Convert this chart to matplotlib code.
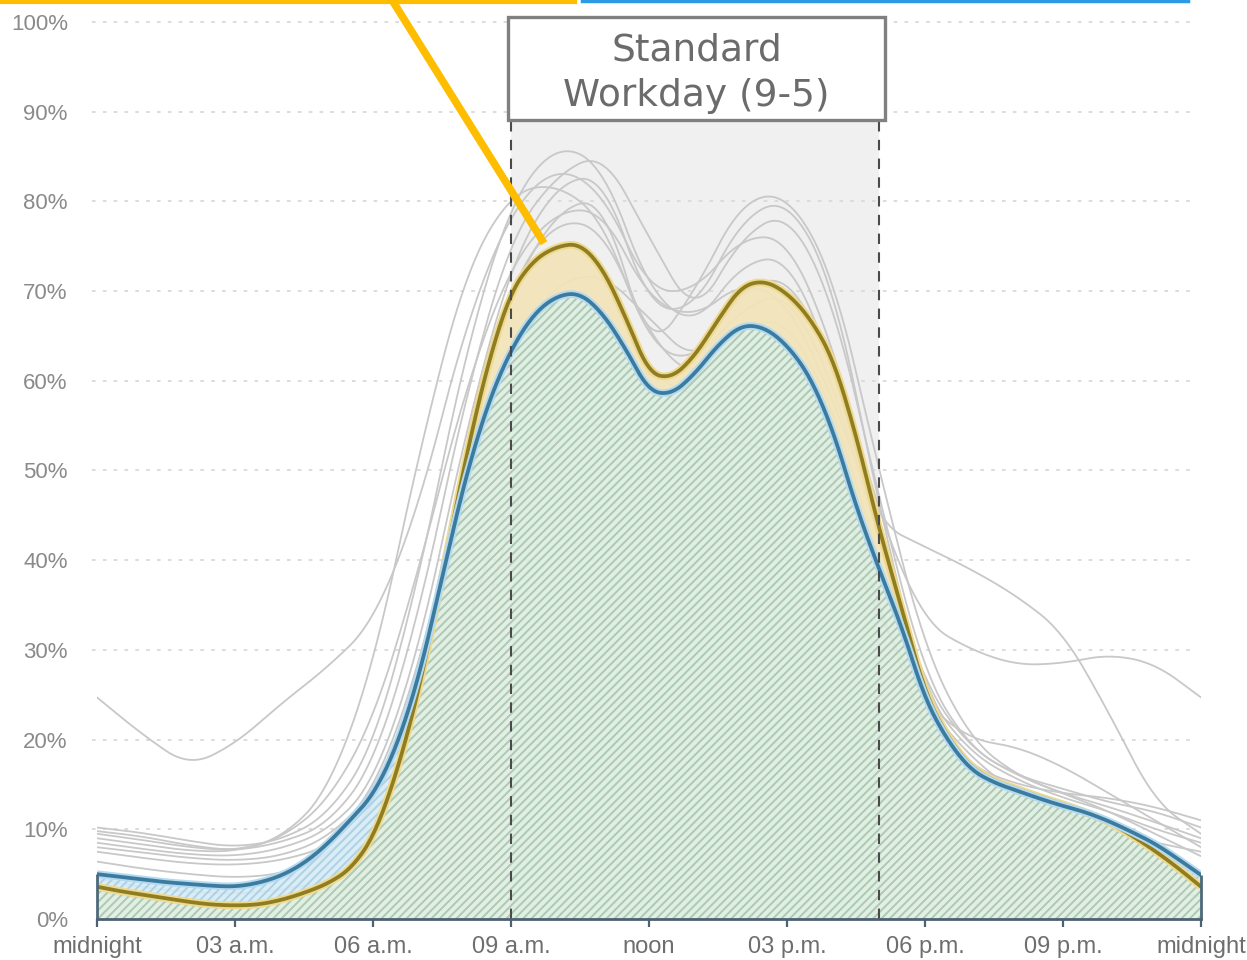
import numpy as np
import matplotlib
matplotlib.use('Agg')
from matplotlib import pyplot as plt
from matplotlib.patches import Rectangle
from matplotlib.lines import Line2D

plt.rcParams['font.family'] = ['Liberation Sans', 'DejaVu Sans']
plt.rcParams['hatch.linewidth'] = 1.4

# half-hour grid for the two highlighted series
hours_fine = np.arange(0, 24.5, 0.5)
blue_vals = [5.0, 4.7, 4.4, 4.1, 3.9, 3.7, 3.6, 4.0, 4.8, 6.2, 8.3, 11.0, 13.8, 19.0, 27.0, 38.0,
             49.0, 57.5, 63.5, 67.5, 69.5, 69.8, 67.5, 63.5, 58.8, 58.5, 60.8, 64.0, 66.2, 66.0,
             64.0, 60.5, 54.5, 46.0, 39.0, 32.5, 24.5, 19.8, 16.6, 15.2, 14.3, 13.4, 12.6, 11.9,
             10.9, 9.7, 8.4, 6.7, 4.9]
yellow_vals = [3.6, 3.1, 2.7, 2.3, 1.9, 1.6, 1.5, 1.6, 2.1, 2.9, 3.9, 5.5, 9.0, 16.0, 25.5, 38.0,
               51.0, 62.0, 70.0, 73.5, 75.0, 75.3, 72.5, 67.0, 60.8, 60.3, 62.8, 66.8, 70.5, 71.2,
               69.8, 67.0, 62.5, 54.0, 43.5, 34.5, 25.2, 20.2, 16.9, 15.4, 14.5, 13.6, 12.8, 11.9,
               10.8, 9.3, 7.6, 5.7, 3.6]

# hourly values of the individual (gray) series
hours = np.arange(0, 25, 1)
gray_series = [
    [24.7, 20.5, 17, 19.5, 24, 28, 33, 46, 66, 79, 84, 81, 70, 70, 76, 76, 64, 45, 33, 30, 28.3, 28.5, 29.5, 28.5, 24.7],
    [10.2, 9.6, 8.7, 8.0, 8.8, 11.5, 19, 38, 63, 80, 86.5, 84, 70, 66, 73, 74, 62, 42, 23, 17, 15, 14, 13.5, 12.5, 11],
    [9.8, 9.2, 8.2, 7.6, 8.5, 10.5, 17, 34, 58, 76, 83, 85.5, 76, 67, 76, 79, 69, 47, 27, 19, 16, 14.5, 13, 12, 10.2],
    [8.5, 7.8, 7.2, 7.0, 7.8, 9.8, 15, 30, 54, 73, 82, 83, 68, 68, 78, 80.5, 71, 46, 25, 18.5, 15.5, 13.5, 12, 10, 8.5],
    [8.0, 7.4, 6.8, 6.5, 7.0, 9.0, 14, 28, 50, 70, 79, 80.5, 63, 70, 80, 81, 72, 50, 30, 20, 16, 14, 12.5, 10.8, 9],
    [6.4, 5.6, 5.0, 4.6, 5.0, 7.0, 12, 25, 47, 64, 71, 72, 67, 62, 68, 70, 60, 42, 26, 19, 16, 14, 12, 9.5, 7],
    [4.5, 3.5, 3.0, 2.8, 3.2, 4.2, 6.5, 14, 32, 48, 54, 55.5, 53, 52, 53.5, 51, 44, 34, 24, 18, 14, 11, 8.5, 6, 4.5],
    [3.0, 2.2, 1.6, 1.5, 2.0, 3.0, 5, 10, 25, 45, 58, 62, 61, 58, 60, 58, 50, 35, 21, 13, 9, 6.5, 4.5, 3.2, 2.5],
    [9.0, 8.3, 7.6, 7.5, 9.0, 13, 22, 39, 59, 73, 79, 79, 69, 67, 71, 69, 58, 44, 41.5, 39, 36, 32, 23, 13, 9.5],
    [7.5, 6.8, 6.2, 6.0, 6.5, 8, 13, 27, 52, 71, 78, 77, 65, 60, 66, 67, 57, 40, 24, 20, 19.2, 17, 14, 11, 8],
    [9.5, 8.8, 8.0, 7.6, 9.0, 14, 28, 52, 72, 81, 82, 78, 64, 62, 70, 72, 62, 42, 24, 17, 14, 12, 10, 8.5, 7.5],
]

tick_hours = [0, 3, 6, 9, 12, 15, 18, 21, 24]
tick_labels = ['midnight', '03 a.m.', '06 a.m.', '09 a.m.', 'noon', '03 p.m.', '06 p.m.', '09 p.m.', 'midnight']
y_ticks = list(range(0, 101, 10))
box_text = 'Standard\nWorkday (9-5)'


def basis(x, y, n=12):
    # render helper: quadratic b-spline through the midpoints (like d3 curveBasis)
    p = np.column_stack([x, y]).astype(float)
    m = (p[:-1] + p[1:]) / 2
    t = np.linspace(0, 1, n, endpoint=False)[:, None]
    out = [p[:1], np.linspace(p[0], m[0], 4, endpoint=False)]
    for i in range(1, len(p) - 1):
        a, b, c = m[i - 1], p[i], m[i]
        out.append((1 - t) ** 2 * a + 2 * (1 - t) * t * b + t ** 2 * c)
    out.append(np.linspace(m[-1], p[-1], 4))
    pts = np.vstack(out)
    return pts[:, 0], pts[:, 1]


fig = plt.figure(figsize=(12.47, 9.6), dpi=100)
ax = fig.add_axes([97 / 1247, 41 / 960, (1201 - 97) / 1247, (938 - 41) / 960])
ax.set_xlim(0, 24)
ax.set_ylim(0, 100)

# workday shading
ax.add_patch(Rectangle((9, 0), 8, 89.1, facecolor='#f0f0f0', edgecolor='none', zorder=0))

# dotted grid
for v in y_ticks[1:]:
    ax.plot([-0.11, 23.87], [v, v], color='#d9d9d9', lw=1.3, ls=(0, (2, 4)),
            clip_on=False, zorder=0.5)

for g in gray_series:
    gx, gy = basis(hours, g)
    ax.plot(gx, gy, color='#c8c8c8', lw=1.3, zorder=1.5)

bx, by = basis(hours_fine, blue_vals)
yx, yy = basis(hours_fine, yellow_vals)
low = np.minimum(by, yy)

ax.fill_between(bx, 0, low, facecolor='#e0eee2', edgecolor='#a6c7ad', hatch='////',
                linewidth=0, alpha=0.9, zorder=2)
ax.fill_between(bx, by, yy, where=yy >= by, interpolate=True,
                facecolor='#f3e4b8', edgecolor='none', alpha=0.92, zorder=2)
ax.fill_between(bx, yy, by, where=by > yy, interpolate=True,
                facecolor='#d6ebf6', edgecolor='#a9cfe2', hatch='////', linewidth=0,
                alpha=0.9, zorder=2)

ax.plot(yx, yy, color='#efd98e', lw=5.5, zorder=3, solid_capstyle='butt')
ax.plot(yx, yy, color='#8f7d22', lw=2.7, zorder=3.2)
ax.plot(bx, by, color='#b3daf0', lw=5.5, zorder=3.4, solid_capstyle='butt')
ax.plot(bx, by, color='#3c7a9e', lw=2.7, zorder=3.6)

ax.vlines([0, 24], 0, [blue_vals[0], blue_vals[-1]], colors='#4d6a7a', lw=2, zorder=3.8,
          clip_on=False)

ax.vlines([9, 17], 0, 89.1, colors='#4a4a4a', linestyles=(0, (5, 4)), lw=1.5, zorder=4)

# label box
ax.add_patch(Rectangle((8.93, 89.1), 17.13 - 8.93, 100.6 - 89.1, facecolor='white',
                       edgecolor='#808080', lw=2.4, zorder=5, clip_on=False))
ax.text(13.03, 94.3, box_text, ha='center', va='center', fontsize=27, color='#6b6b6b',
        family='DejaVu Sans', linespacing=1.32, zorder=6)

for s in ['top', 'left', 'right']:
    ax.spines[s].set_visible(False)
ax.spines['bottom'].set_color('#4d6170')
ax.spines['bottom'].set_linewidth(2)
ax.spines['bottom'].set_zorder(4.5)

ax.set_xticks(tick_hours)
ax.set_xticklabels(tick_labels)
ax.set_yticks(y_ticks)
ax.set_yticklabels([f'{v}%' for v in y_ticks])
ax.tick_params(axis='x', length=6, width=1.6, color='#4d6170', labelsize=17,
               labelcolor='#6e6e6e', pad=6)
ax.tick_params(axis='y', length=0, labelsize=16, labelcolor='#8a8a8a', pad=21)

# callout lines at the top
fig.add_artist(Line2D([0, 575 / 1247], [1 - 1.5 / 960] * 2, color='#ffbd00', lw=3))
fig.add_artist(Line2D([392 / 1247, 542 / 1247], [1.0, 1 - 240 / 960], color='#ffbd00', lw=5.5))
fig.add_artist(Line2D([582 / 1247, 1188 / 1247], [1 - 1.2 / 960] * 2, color='#2b9be3', lw=2.5))

fig.savefig('out.png', dpi=100)
